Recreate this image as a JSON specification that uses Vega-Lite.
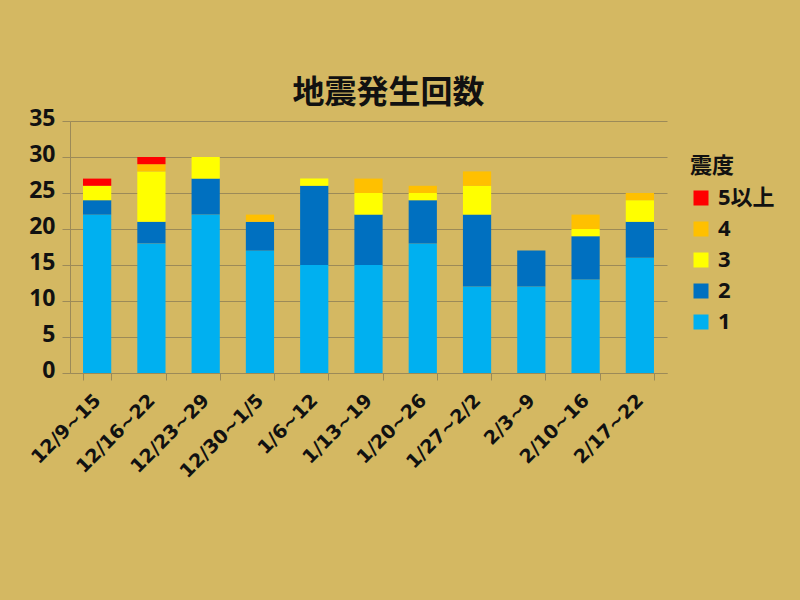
{
  "$schema": "https://vega.github.io/schema/vega-lite/v6.json",
  "autosize": "none",
  "width": 597,
  "height": 252,
  "padding": {"left": 70, "top": 121, "right": 133, "bottom": 227},
  "background": "#D4B862",
  "title": {
    "text": "地震発生回数",
    "font": "Noto Sans CJK JP",
    "fontSize": 32,
    "fontWeight": "bold",
    "color": "#111111",
    "anchor": "middle",
    "dx": 20,
    "offset": -3
  },
  "data": {
    "values": [
      {"week": "12/9~15", "shindo": "1", "k": 1, "count": 22},
      {"week": "12/9~15", "shindo": "2", "k": 2, "count": 2},
      {"week": "12/9~15", "shindo": "3", "k": 3, "count": 2},
      {"week": "12/9~15", "shindo": "5以上", "k": 5, "count": 1},
      {"week": "12/16~22", "shindo": "1", "k": 1, "count": 18},
      {"week": "12/16~22", "shindo": "2", "k": 2, "count": 3},
      {"week": "12/16~22", "shindo": "3", "k": 3, "count": 7},
      {"week": "12/16~22", "shindo": "4", "k": 4, "count": 1},
      {"week": "12/16~22", "shindo": "5以上", "k": 5, "count": 1},
      {"week": "12/23~29", "shindo": "1", "k": 1, "count": 22},
      {"week": "12/23~29", "shindo": "2", "k": 2, "count": 5},
      {"week": "12/23~29", "shindo": "3", "k": 3, "count": 3},
      {"week": "12/30~1/5", "shindo": "1", "k": 1, "count": 17},
      {"week": "12/30~1/5", "shindo": "2", "k": 2, "count": 4},
      {"week": "12/30~1/5", "shindo": "4", "k": 4, "count": 1},
      {"week": "1/6~12", "shindo": "1", "k": 1, "count": 15},
      {"week": "1/6~12", "shindo": "2", "k": 2, "count": 11},
      {"week": "1/6~12", "shindo": "3", "k": 3, "count": 1},
      {"week": "1/13~19", "shindo": "1", "k": 1, "count": 15},
      {"week": "1/13~19", "shindo": "2", "k": 2, "count": 7},
      {"week": "1/13~19", "shindo": "3", "k": 3, "count": 3},
      {"week": "1/13~19", "shindo": "4", "k": 4, "count": 2},
      {"week": "1/20~26", "shindo": "1", "k": 1, "count": 18},
      {"week": "1/20~26", "shindo": "2", "k": 2, "count": 6},
      {"week": "1/20~26", "shindo": "3", "k": 3, "count": 1},
      {"week": "1/20~26", "shindo": "4", "k": 4, "count": 1},
      {"week": "1/27~2/2", "shindo": "1", "k": 1, "count": 12},
      {"week": "1/27~2/2", "shindo": "2", "k": 2, "count": 10},
      {"week": "1/27~2/2", "shindo": "3", "k": 3, "count": 4},
      {"week": "1/27~2/2", "shindo": "4", "k": 4, "count": 2},
      {"week": "2/3~9", "shindo": "1", "k": 1, "count": 12},
      {"week": "2/3~9", "shindo": "2", "k": 2, "count": 5},
      {"week": "2/10~16", "shindo": "1", "k": 1, "count": 13},
      {"week": "2/10~16", "shindo": "2", "k": 2, "count": 6},
      {"week": "2/10~16", "shindo": "3", "k": 3, "count": 1},
      {"week": "2/10~16", "shindo": "4", "k": 4, "count": 2},
      {"week": "2/17~22", "shindo": "1", "k": 1, "count": 16},
      {"week": "2/17~22", "shindo": "2", "k": 2, "count": 5},
      {"week": "2/17~22", "shindo": "3", "k": 3, "count": 3},
      {"week": "2/17~22", "shindo": "4", "k": 4, "count": 1}
    ]
  },
  "mark": {"type": "bar"},
  "encoding": {
    "x": {
      "field": "week",
      "type": "nominal",
      "sort": null,
      "scale": {"paddingInner": 0.48, "paddingOuter": 0.24},
      "axis": {
        "title": null,
        "labelAngle": -45,
        "labelAlign": "right",
        "labelBaseline": "middle",
        "labelFont": "DejaVu Sans",
        "labelFontSize": 19,
        "labelFontWeight": "bold",
        "labelColor": "#111111",
        "labelPadding": 17,
        "tickBand": "extent",
        "tickSize": 7,
        "tickColor": "#9C8A58",
        "domainColor": "#9C8A58",
        "grid": false
      }
    },
    "y": {
      "field": "count",
      "type": "quantitative",
      "aggregate": "sum",
      "stack": "zero",
      "scale": {"domain": [0, 35]},
      "axis": {
        "title": null,
        "values": [0, 5, 10, 15, 20, 25, 30, 35],
        "labelFont": "Noto Sans",
        "labelFontSize": 23,
        "labelFontWeight": "bold",
        "labelColor": "#111111",
        "labelPadding": 7,
        "labelOffset": -3,
        "tickSize": 8,
        "tickColor": "#9C8A58",
        "domainColor": "#9C8A58",
        "gridColor": "#9C8A58",
        "gridWidth": 1
      }
    },
    "color": {
      "field": "shindo",
      "type": "nominal",
      "scale": {
        "domain": ["5以上", "4", "3", "2", "1"],
        "range": ["#FF0000", "#FFC000", "#FFFF00", "#0070C0", "#00B0F0"]
      },
      "legend": {
        "title": "震度",
        "orient": "none",
        "legendX": 620,
        "legendY": 35,
        "titleFont": "Noto Sans CJK JP",
        "titleFontSize": 22,
        "titleFontWeight": "bold",
        "titleColor": "#111111",
        "titlePadding": 9,
        "titleAnchor": "start",
        "labelFont": "Noto Sans, Noto Sans CJK JP",
        "labelFontSize": 22,
        "labelFontWeight": "bold",
        "labelColor": "#111111",
        "labelOffset": 6,
        "symbolType": "square",
        "symbolSize": 225,
        "symbolStrokeWidth": 0,
        "rowPadding": 9
      }
    },
    "order": {"field": "k", "type": "quantitative", "sort": "ascending"}
  },
  "config": {
    "view": {"stroke": null}
  }
}
